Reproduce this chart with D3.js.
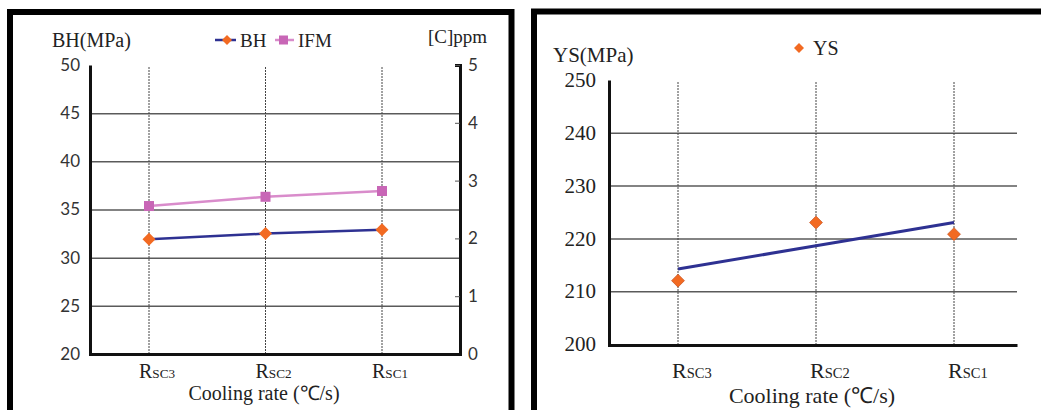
<!DOCTYPE html>
<html>
<head>
<meta charset="utf-8">
<script src="https://cdn.jsdelivr.net/npm/d3@7"></script>
<style>
  html, body { margin: 0; padding: 0; background: #fff; }
  svg { display: block; }
</style>
</head>
<body>
<svg id="chart" width="1041" height="410"></svg>
<script>
// Cooling-rate categories (shown as R with SC-subscript)
const categories = ["SC3", "SC2", "SC1"];

// Bake hardening (MPa) and interstitial free carbon (ppm)
const bhValues = [31.9, 32.5, 32.9];
const ifmValues = [2.56, 2.72, 2.82];

// Yield strength (MPa)
const ysValues = [212.0, 223.0, 220.8];

// Axis ticks
const bhTicks = [20, 25, 30, 35, 40, 45, 50];
const ppmTicks = [0, 1, 2, 3, 4, 5];
const ysTicks = [200, 210, 220, 230, 240, 250];

const SERIF = '"Liberation Serif", "Times New Roman", serif';
const SANS = 'Lato, "Open Sans", sans-serif';

const svg = d3.select("#chart");

const NAVY = "#2e3192";
const ORANGE = "#f26a22";
const PINK_LINE = "#d98ccb";
const PINK_MARK = "#c866b6";
const GRID = "#5a5a5a";

const diamond = r => `M0,${-r}L${r},0L0,${r}L${-r},0Z`;

function serifText(g, x, y, size, str) {
  return g.append("text").attr("x", x).attr("y", y)
    .attr("font-family", SERIF).attr("font-size", size).attr("fill", "#222").text(str);
}

// ---------- panel frames ----------
svg.append("rect").attr("x", 10).attr("y", 12).attr("width", 501.5).attr("height", 420)
  .attr("fill", "none").attr("stroke", "#000").attr("stroke-width", 6);
svg.append("rect").attr("x", 534).attr("y", 11.5).attr("width", 520).attr("height", 420)
  .attr("fill", "none").attr("stroke", "#000").attr("stroke-width", 6);

// category label with small-caps subscript
function catLabel(g, x, y, cat, size) {
  const t = g.append("text").attr("x", x).attr("y", y)
    .attr("font-family", SERIF).attr("fill", "#222");
  t.append("tspan").attr("font-size", size).text("R");
  t.append("tspan").attr("font-size", size * 0.66).text(cat);
}

// ---------- left panel: BH and IFM ----------
{
  const g = svg.append("g");
  const left = 90, right = 460, top = 65, bottom = 354;
  const y = d3.scaleLinear().domain([20, 50]).range([bottom, top]);
  const y2 = d3.scaleLinear().domain([0, 5]).range([bottom, top]);
  const x = d3.scalePoint().domain(categories).range([149, 382]);

  // horizontal gridlines
  g.append("g").attr("transform", `translate(${left},0)`)
    .call(d3.axisLeft(y).tickValues(bhTicks.slice(1, -1)).tickSize(-(right - left)).tickFormat(""))
    .call(a => a.select(".domain").remove())
    .call(a => a.selectAll("line").attr("stroke", GRID).attr("stroke-width", 1.5));

  // vertical dotted category lines
  g.selectAll(".vline").data(categories).join("line")
    .attr("x1", d => x(d)).attr("x2", d => x(d))
    .attr("y1", top + 2).attr("y2", bottom)
    .attr("stroke", "#444").attr("stroke-width", 1).attr("stroke-dasharray", "2,1");

  // left axis
  g.append("g").attr("transform", `translate(${left},0)`)
    .call(d3.axisLeft(y).tickValues(bhTicks).tickSize(0).tickPadding(10).tickFormat(d3.format("d")))
    .call(a => a.select(".domain").attr("stroke", "#111").attr("stroke-width", 3))
    .call(a => a.selectAll("text").attr("font-family", SANS).attr("font-size", 17).attr("fill", "#333"));

  // right axis (ppm)
  g.append("g").attr("transform", `translate(${right},0)`)
    .call(d3.axisRight(y2).tickValues(ppmTicks).tickSize(-5).tickPadding(8).tickFormat(d3.format("d")))
    .call(a => a.select(".domain").attr("stroke", "#111").attr("stroke-width", 3))
    .call(a => a.selectAll("line").attr("stroke", "#555"))
    .call(a => a.selectAll("text").attr("font-family", SANS).attr("font-size", 17).attr("fill", "#333"));

  // bottom axis line
  g.append("g").attr("transform", `translate(0,${bottom})`)
    .call(d3.axisBottom(d3.scaleLinear().range([left - 1.5, right + 1.5])).ticks(0).tickSize(0))
    .call(a => a.select(".domain").attr("stroke", "#111").attr("stroke-width", 3));

  // IFM series
  g.append("path").datum(ifmValues)
    .attr("fill", "none").attr("stroke", PINK_LINE).attr("stroke-width", 2.5)
    .attr("d", d3.line().x((d, i) => x(categories[i])).y(d => y2(d)));
  g.selectAll(".ifm").data(ifmValues).join("rect")
    .attr("x", (d, i) => x(categories[i]) - 5).attr("y", d => y2(d) - 5)
    .attr("width", 10).attr("height", 10).attr("fill", PINK_MARK);

  // BH series
  g.append("path").datum(bhValues)
    .attr("fill", "none").attr("stroke", NAVY).attr("stroke-width", 2.5)
    .attr("d", d3.line().x((d, i) => x(categories[i])).y(d => y(d)));
  g.selectAll(".bh").data(bhValues).join("path")
    .attr("transform", (d, i) => `translate(${x(categories[i])},${y(d)})`)
    .attr("d", diamond(6.5)).attr("fill", ORANGE);

  // titles
  serifText(g, 52, 47, 20, "BH(MPa)");
  serifText(g, 428, 43, 19, "[C]ppm");

  // legend
  g.append("line").attr("x1", 215).attr("x2", 236).attr("y1", 40).attr("y2", 40)
    .attr("stroke", NAVY).attr("stroke-width", 2.5);
  g.append("path").attr("transform", "translate(227,40)").attr("d", diamond(5)).attr("fill", ORANGE);
  serifText(g, 240, 47, 19, "BH");
  g.append("line").attr("x1", 275).attr("x2", 294).attr("y1", 40).attr("y2", 40)
    .attr("stroke", PINK_LINE).attr("stroke-width", 2.5);
  g.append("rect").attr("x", 279).attr("y", 35.5).attr("width", 9).attr("height", 9).attr("fill", PINK_MARK);
  serifText(g, 298, 47, 19, "IFM");

  // category labels and axis title
  categories.forEach(c => catLabel(g, x(c) - 10, 378, c, 20));
  serifText(g, 264, 400, 20, "Cooling rate (℃/s)").attr("text-anchor", "middle");
}

// ---------- right panel: YS ----------
{
  const g = svg.append("g");
  const left = 609, right = 1017, top = 80, bottom = 344;
  const y = d3.scaleLinear().domain([200, 250]).range([bottom, top]);
  const x = d3.scalePoint().domain(categories).range([678, 954]);

  g.append("g").attr("transform", `translate(${left},0)`)
    .call(d3.axisLeft(y).tickValues(ysTicks.slice(1, -1)).tickSize(-(right - left)).tickFormat(""))
    .call(a => a.select(".domain").remove())
    .call(a => a.selectAll("line").attr("stroke", GRID).attr("stroke-width", 1.5));

  g.selectAll(".vline").data(categories).join("line")
    .attr("x1", d => x(d)).attr("x2", d => x(d))
    .attr("y1", top + 2).attr("y2", bottom)
    .attr("stroke", "#444").attr("stroke-width", 1).attr("stroke-dasharray", "2,1");

  g.append("g").attr("transform", `translate(${left},0)`)
    .call(d3.axisLeft(y).tickValues(ysTicks).tickSize(0).tickPadding(13).tickFormat(d3.format("d")))
    .call(a => a.select(".domain").attr("stroke", "#111").attr("stroke-width", 3))
    .call(a => a.selectAll("text").attr("font-family", SERIF).attr("font-size", 21).attr("fill", "#222"));

  g.append("g").attr("transform", `translate(0,${bottom + 1})`)
    .call(d3.axisBottom(d3.scaleLinear().range([left - 1.5, right])).ticks(0).tickSize(0))
    .call(a => a.select(".domain").attr("stroke", "#111").attr("stroke-width", 3));

  // least-squares trend line through the YS points
  const xs = ysValues.map((d, i) => i);
  const mx = d3.mean(xs), my = d3.mean(ysValues);
  const slope = d3.sum(xs, (xi, i) => (xi - mx) * (ysValues[i] - my)) / d3.sum(xs, xi => (xi - mx) ** 2);
  const fit = xs.map(xi => my + slope * (xi - mx));
  g.append("path").datum(fit)
    .attr("fill", "none").attr("stroke", NAVY).attr("stroke-width", 3)
    .attr("d", d3.line().x((d, i) => x(categories[i])).y(d => y(d)));

  g.selectAll(".ys").data(ysValues).join("path")
    .attr("transform", (d, i) => `translate(${x(categories[i])},${y(d)})`)
    .attr("d", diamond(6.5)).attr("fill", ORANGE).attr("stroke", "#c04a1a").attr("stroke-width", 0.6);

  serifText(g, 553, 62, 21, "YS(MPa)");
  g.append("path").attr("transform", "translate(799,48)").attr("d", diamond(5)).attr("fill", ORANGE);
  serifText(g, 813, 55, 20, "YS");

  categories.forEach(c => catLabel(g, x(c) - 6, 378, c, 22));
  serifText(g, 812, 403, 22, "Cooling rate (℃/s)").attr("text-anchor", "middle");
}
</script>
</body>
</html>
